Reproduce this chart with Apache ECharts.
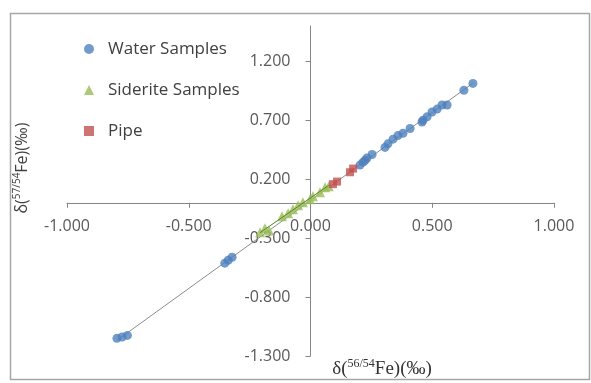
<!DOCTYPE html>
<html>
<head>
<meta charset="utf-8">
<script src="https://cdn.jsdelivr.net/npm/echarts@6/dist/echarts.min.js"></script>
<style>
  html, body { margin: 0; padding: 0; background: #fff; }
  #chart { width: 591px; height: 383px; }
</style>
</head>
<body>
<div id="chart"></div>
<script>
const waterX = [-0.795, -0.774, -0.752, -0.352, -0.338, -0.322, 0.203, 0.216, 0.224, 0.232, 0.253, 0.306, 0.318, 0.339, 0.359, 0.380, 0.409, 0.458, 0.462, 0.479, 0.499, 0.520, 0.540, 0.561, 0.630, 0.667]
const waterY = [-1.150, -1.139, -1.125, -0.512, -0.488, -0.462, 0.320, 0.345, 0.360, 0.380, 0.410, 0.470, 0.500, 0.540, 0.570, 0.590, 0.630, 0.685, 0.700, 0.730, 0.770, 0.795, 0.830, 0.830, 0.955, 1.013]
const sideriteX = [-0.207, -0.187, -0.170, -0.117, -0.092, -0.072, -0.051, -0.031, -0.002, 0.010, 0.039, 0.060, 0.075]
const sideriteY = [-0.250, -0.215, -0.235, -0.114, -0.088, -0.054, -0.020, 0.005, 0.031, 0.056, 0.090, 0.132, 0.140]
const pipeX = [0.092, 0.109, 0.162, 0.175]
const pipeY = [0.158, 0.180, 0.259, 0.290]
const xTicks = [-1, -0.5, 0, 0.5, 1]
const yTicks = [-1.3, -0.8, -0.3, 0.2, 0.7, 1.2]

const zip = (xs, ys) => xs.map((x, i) => [x, ys[i]])

// least-squares trendline over the x range of a series
function trend(xs, ys) {
  const n = xs.length
  const mx = xs.reduce((a, b) => a + b, 0) / n
  const my = ys.reduce((a, b) => a + b, 0) / n
  let sxy = 0, sxx = 0
  xs.forEach((x, i) => { sxy += (x - mx) * (ys[i] - my); sxx += (x - mx) * (x - mx) })
  const k = sxy / sxx
  const b = my - k * mx
  const lo = Math.min(...xs), hi = Math.max(...xs)
  return [[lo, k * lo + b], [hi, k * hi + b]]
}

const W = 591, H = 383
const grid = { left: 67, right: 37, top: 26, bottom: 27 }
const xMin = -1, xMax = 1, yMin = -1.3, yMax = 1.5
// move the axes onto the zero lines
const plotW = W - grid.left - grid.right
const plotH = H - grid.top - grid.bottom
const yAxisOffset = -plotW * (0 - xMin) / (xMax - xMin)
const xAxisOffset = -plotH * (0 - yMin) / (yMax - yMin)

const chart = echarts.init(document.getElementById('chart'))
const font = '"Open Sans", sans-serif'
const serif = '"Liberation Serif", serif'
const axisColor = '#868686'
const labelColor = '#595959'

chart.setOption({
  animation: false,
  grid: grid,
  legend: {
    orient: 'vertical',
    left: 79,
    top: 34,
    itemWidth: 10,
    itemHeight: 10,
    itemGap: 21,
    data: [
      { name: 'Water Samples', icon: 'circle' },
      { name: 'Siderite Samples', icon: 'triangle' },
      { name: 'Pipe', icon: 'rect' },
    ],
    textStyle: { color: '#404040', fontSize: 17, fontFamily: font, lineHeight: 20, padding: [0, 0, 0, 9] },
  },
  xAxis: {
    type: 'value',
    min: xMin,
    max: xMax,
    offset: xAxisOffset,
    splitLine: { show: false },
    axisLine: { onZero: false, lineStyle: { color: axisColor } },
    axisTick: { length: 5, customValues: xTicks, lineStyle: { color: axisColor } },
    axisLabel: {
      customValues: xTicks,
      margin: 16,
      color: labelColor,
      fontSize: 16,
      fontFamily: font,
      formatter: v => v.toFixed(3),
    },
  },
  yAxis: {
    type: 'value',
    min: yMin,
    max: yMax,
    offset: yAxisOffset,
    splitLine: { show: false },
    axisLine: { onZero: false, lineStyle: { color: axisColor } },
    axisTick: { length: 5, customValues: yTicks, lineStyle: { color: axisColor } },
    axisLabel: {
      customValues: yTicks,
      margin: 20,
      color: labelColor,
      fontSize: 16,
      fontFamily: font,
      formatter: v => v.toFixed(3),
    },
  },
  graphic: [
    {
      type: 'rect',
      shape: { x: 10.5, y: 13.5, width: 579, height: 366 },
      style: { fill: 'none', stroke: '#a6a6a6', lineWidth: 1.5 },
      silent: true,
    },
    {
      type: 'text',
      x: 22,
      y: 168,
      rotation: Math.PI / 2,
      style: {
        text: '{b|δ(}{s|57/54}{b|Fe)(‰)}',
        align: 'center',
        verticalAlign: 'middle',
        fill: '#404040',
        rich: {
          b: { fontSize: 16, fontFamily: font, fill: '#404040', lineHeight: 20 },
          s: { fontSize: 10, fontFamily: font, fill: '#404040', verticalAlign: 'top', lineHeight: 20 },
        },
      },
    },
    {
      type: 'text',
      x: 382,
      y: 369,
      style: {
        text: '{b|δ(}{s|56/54}{b|Fe)(‰)}',
        align: 'center',
        verticalAlign: 'middle',
        fill: '#333333',
        rich: {
          b: { fontSize: 19, fontFamily: serif, fill: '#333333', lineHeight: 22 },
          s: { fontSize: 12, fontFamily: serif, fill: '#333333', verticalAlign: 'top', lineHeight: 22 },
        },
      },
    },
  ],
  series: [
    {
      name: 'Water trend',
      type: 'line',
      data: trend(waterX, waterY),
      symbol: 'none',
      lineStyle: { color: '#8c8c8c', width: 1 },
      z: 1,
    },
    {
      name: 'Water Samples',
      type: 'scatter',
      data: zip(waterX, waterY),
      symbol: 'circle',
      symbolSize: 9,
      itemStyle: { color: '#4f81bd' },
      z: 2,
    },
    {
      name: 'Siderite Samples',
      type: 'scatter',
      data: zip(sideriteX, sideriteY),
      symbol: 'triangle',
      symbolSize: 10,
      itemStyle: { color: '#9bbb59' },
      z: 2,
    },
    {
      name: 'Siderite trend',
      type: 'line',
      data: trend(sideriteX, sideriteY),
      symbol: 'none',
      lineStyle: { color: '#4e8a1e', width: 1 },
      z: 3,
    },
    {
      name: 'Pipe',
      type: 'scatter',
      data: zip(pipeX, pipeY),
      symbol: 'rect',
      symbolSize: 8,
      itemStyle: { color: '#c0504d' },
      z: 2,
    },
  ],
})
</script>
</body>
</html>
